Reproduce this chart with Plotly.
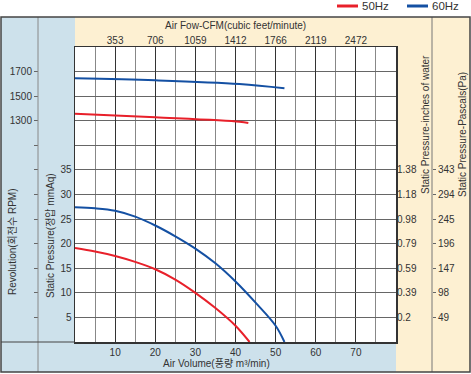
import plotly.graph_objects as go

# ---------------- data ----------------
air_volume_ticks = [10, 20, 30, 40, 50, 60, 70]
cfm_labels = ["353", "706", "1059", "1412", "1766", "2119", "2472"]
pressure_ticks = [5, 10, 15, 20, 25, 30, 35]
inches_labels = ["0.2", "0.39", "0.59", "0.79", "0.98", "1.18", "1.38"]
pascal_labels = ["49", "98", "147", "196", "245", "294", "343"]
rpm_ticks = [-300, -100, 100, 300, 500, 700, 900, 1100, 1300, 1500, 1700]
rpm_labels = ["", "", "", "", "", "", "", "", "1300", "1500", "1700"]

# static pressure curves (mmAq) vs air volume (m3/min)
p60_x = [0, 5, 10, 15, 20, 25, 30, 35, 40, 45, 50, 52.2]
p60_y = [27.4, 27.2, 26.7, 25.5, 23.7, 21.5, 19.0, 16.0, 12.3, 8.0, 3.3, 0]
p50_x = [0, 5, 10, 15, 20, 25, 30, 35, 40, 43.5]
p50_y = [19.1, 18.4, 17.5, 16.3, 14.8, 12.7, 10.0, 6.9, 3.3, 0]

# revolution curves (RPM) vs air volume
r60_x = [0, 20, 41, 52.2]
r60_y = [1645, 1629, 1599, 1564]
r50_x = [0, 20, 41, 43.2]
r50_y = [1357, 1328, 1292, 1282]

RED = "#e8202a"
BLUE = "#1450a3"
LBLUE = "#cde1eb"
BEIGE = "#fdf0d2"
W, H = 471, 374

def px(x):
    return x / W

def py(y):
    return 1 - y / H

FONT = "Liberation Sans, Arial, Noto Sans CJK KR, sans-serif"

fig = go.Figure()
fig.add_trace(go.Scatter(x=p50_x, y=p50_y, mode="lines", line=dict(color=RED, width=2, shape="spline"),
                         xaxis="x", yaxis="y", showlegend=False, hoverinfo="skip"))
fig.add_trace(go.Scatter(x=p60_x, y=p60_y, mode="lines", line=dict(color=BLUE, width=2, shape="spline"),
                         xaxis="x", yaxis="y", showlegend=False, hoverinfo="skip"))
fig.add_trace(go.Scatter(x=r50_x, y=r50_y, mode="lines", line=dict(color=RED, width=2, shape="spline"),
                         xaxis="x", yaxis="y2", showlegend=False, hoverinfo="skip"))
fig.add_trace(go.Scatter(x=r60_x, y=r60_y, mode="lines", line=dict(color=BLUE, width=2, shape="spline"),
                         xaxis="x", yaxis="y2", showlegend=False, hoverinfo="skip"))
fig.add_trace(go.Scatter(x=[None], y=[None], xaxis="x", yaxis="y3", showlegend=False, hoverinfo="skip"))
fig.add_trace(go.Scatter(x=[None], y=[None], xaxis="x2", yaxis="y4", showlegend=False, hoverinfo="skip"))

xdom = [px(75), px(396)]
ydom = [py(342), py(47)]
tickfont = dict(family=FONT, size=10, color="#333")

fig.update_layout(
    width=W, height=H,
    margin=dict(l=0, r=0, t=0, b=0),
    paper_bgcolor="white", plot_bgcolor="white",
    font=dict(family=FONT, size=10, color="#333"),
    hovermode=False,
    xaxis=dict(domain=xdom, range=[0, 80], tickvals=air_volume_ticks, ticks="",
               showgrid=True, gridcolor="#333", gridwidth=1,
               minor=dict(tick0=0, dtick=5, showgrid=True, gridcolor="#888", gridwidth=1),
               zeroline=False, showline=True, mirror=True, linecolor="#333", linewidth=1.5,
               tickfont=tickfont, anchor="y"),
    xaxis2=dict(domain=xdom, range=[0, 80], overlaying="x", side="top", anchor="y",
                tickvals=air_volume_ticks, ticktext=cfm_labels, ticks="", showgrid=False,
                zeroline=False, tickfont=tickfont),
    yaxis=dict(domain=ydom, range=[0, 60], tickvals=pressure_ticks, ticks="",
               showgrid=True, gridcolor="#666", gridwidth=1,
               minor=dict(tick0=0, dtick=5, showgrid=True, gridcolor="#666", gridwidth=1),
               zeroline=False, showline=True, mirror=True, linecolor="#333", linewidth=1.5,
               tickfont=tickfont, anchor="x"),
    yaxis2=dict(domain=ydom, range=[-500, 1900], overlaying="y", anchor="free", position=px(38),
                side="left", tickvals=rpm_ticks, ticktext=rpm_labels, ticks="outside", ticklen=4,
                tickcolor="#666", showgrid=False, zeroline=False, showline=False, tickfont=tickfont),
    yaxis3=dict(domain=ydom, range=[0, 60], overlaying="y", anchor="free", position=px(396),
                side="right", tickvals=pressure_ticks, ticktext=inches_labels, ticks="",
                showgrid=False, zeroline=False, showline=False, tickfont=tickfont),
    yaxis4=dict(domain=ydom, range=[0, 60], overlaying="y", anchor="free", position=px(432),
                side="right", tickvals=pressure_ticks, ticktext=pascal_labels, ticks="outside",
                ticklen=3, tickcolor="#666",
                showgrid=False, zeroline=False, showline=False, tickfont=tickfont),
)

def rect(x0, y0, x1, y1, fill, layer="below", line=None):
    return dict(type="rect", xref="paper", yref="paper", x0=px(x0), x1=px(x1), y0=py(y1), y1=py(y0),
                fillcolor=fill, layer=layer, line=dict(width=0) if line is None else line)

def hline(x0, x1, y, color, width=1):
    return dict(type="line", xref="paper", yref="paper", x0=px(x0), x1=px(x1), y0=py(y), y1=py(y),
                line=dict(color=color, width=width), layer="above")

def vline(x, y0, y1, color, width=1):
    return dict(type="line", xref="paper", yref="paper", x0=px(x), x1=px(x), y0=py(y0), y1=py(y1),
                line=dict(color=color, width=width), layer="above")

shapes = [
    rect(1, 17, 75, 372, LBLUE),
    rect(1, 342, 396, 372, LBLUE),
    rect(75, 17, 470, 47, BEIGE),
    rect(396, 17, 470, 372, BEIGE),
    vline(38, 17, 372, "#888", 1),
    vline(432, 17, 372, "#777", 1),
    hline(1, 75, 342, "#444", 1.2),
    dict(type="rect", xref="paper", yref="paper", x0=px(1), x1=px(470), y0=py(372), y1=py(17),
         line=dict(color="#444", width=1.5), fillcolor="rgba(0,0,0,0)", layer="above"),
    hline(337, 358, 6, RED, 3),
    hline(407, 428, 6, BLUE, 3),
]
fig.update_layout(shapes=shapes)

def ann(text, x, y, angle=0, size=10, xanchor="center"):
    return dict(text=text, x=px(x), y=py(y), xref="paper", yref="paper", showarrow=False,
                textangle=angle, xanchor=xanchor, yanchor="middle",
                font=dict(family=FONT, size=size, color="#333"))

fig.update_layout(annotations=[
    ann("Air Fow-CFM(cubic feet/minute)", 235, 25),
    ann("Air Volume(풍량 m³/min)", 216, 363),
    ann("Revolution(회전수 RPM)", 12, 242, angle=-90),
    ann("Static Pressure(정압 mmAq)", 50, 236, angle=-90),
    ann("Static Pressure-inches of water", 425, 125, angle=-90),
    ann("Static Pressure-Pascals(Pa)", 462, 135, angle=-90),
    ann("50Hz", 360, 6, size=11.5, xanchor="left"),
    ann("60Hz", 430, 6, size=11.5, xanchor="left"),
])

fig.write_html("out.html", config={"displayModeBar": False, "staticPlot": True},
               post_script="document.body.style.margin='0';document.body.style.overflow='hidden';")
